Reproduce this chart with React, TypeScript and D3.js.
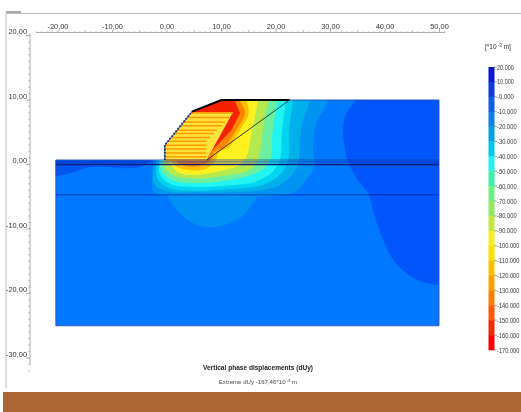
import React from "react";
import * as d3 from "d3";

type P = [number, number];

const xTickLabels = [-20, -10, 0, 10, 20, 30, 40, 50];
const yTickLabels = [20, 10, 0, -10, -20, -30];
const legendValues = ["20.000","10.000","-0.000","-10.000","-20.000","-30.000","-40.000","-50.000","-60.000","-70.000","-80.000","-90.000","-100.000","-110.000","-120.000","-130.000","-140.000","-150.000","-160.000","-170.000"];
const legendColors = ["#0a14d2","#0a3ade","#0a5ce6","#0a80e2","#05a2e4","#00c8e8","#20f2f2","#3cf0a8","#6cf080","#94e862","#c2e840","#f6f020","#ffe000","#ffc000","#ffa000","#ff8000","#ff5800","#f02c00","#ff0000"];

const domainOutline: P[] = [[-20.4,0.7],[-0.4,0.7],[-0.4,3],[4.6,8.2],[10,10],[22.5,10],[49.9,10],[49.9,-25],[-20.4,-25]];

const deepRight: P[] = [[34.5,11],[34.5,10],[32.8,7.7],[32.3,4.9],[32.7,2.2],[33.2,0.4],[35,-2.4],[36.9,-4.4],[37.8,-7.1],[39.1,-10.5],[41.5,-14.8],[43.7,-16.7],[45.9,-17.9],[49.9,-18.7],[53,-18.7],[53,11]];
const leftDark: P[] = [[-22,0.9],[-22,-1.7],[-17.6,-1.3],[-14.1,-0.4],[-4.95,-0.4],[-2.6,0.9]];
const lowerBlob: P[] = [[0.2,-4],[0.2,-5],[1.5,-6.7],[3.3,-8.3],[5.7,-9.4],[7.9,-9.7],[10.6,-9.4],[13.4,-8.3],[15.2,-6.7],[16.5,-5],[16.5,-4]];
const band1: P[] = [[29.5,12],[29.5,10],[27.2,5.8],[26.8,2.2],[27,-0.4],[25.5,-2.4],[23.9,-4],[21.5,-4.7],[-0.4,-4.7],[-2.4,-4.3],[-2.75,-2.9],[-2.75,-1.2],[-2.5,1],[-2.5,12]];
const band2: P[] = [[26.2,12],[26.2,10],[24.8,6.4],[24.3,2.7],[24,-0.1],[22.4,-2.1],[20.6,-3.2],[17.2,-4],[11.6,-4.3],[5.5,-4.3],[-0.4,-4.1],[-2.4,-2.9],[-2.4,-1.2],[-2,0.8],[-2,12]];
const band3: P[] = [[23.1,12],[23.1,10],[22.4,5.3],[22.2,0.7],[20.7,-1.6],[17.4,-3.2],[11.6,-3.8],[5.5,-4.1],[0.2,-3.6],[-1.8,-2.1],[-1.8,0.9],[-1.8,12]];
const band4: P[] = [[21.8,12],[21.8,10],[21.1,5.3],[20.7,0.7],[19.3,-1.2],[16.1,-2.7],[11.6,-3.2],[5.5,-3.5],[0.55,-3],[-1.3,-1.5],[-1.4,0.9],[-1.4,12]];
const band5: P[] = [[20.2,12],[20.2,10],[19.4,5.3],[18.9,0.7],[17.4,-0.85],[13.4,-2.1],[5.5,-2.9],[0.9,-2.4],[-1.1,-0.85],[-1.1,0.9],[-1.1,12]];
const band6: P[] = [[18.5,12],[18.5,10],[17.6,5.3],[16.7,0.7],[15.2,-0.85],[11.6,-1.6],[5.5,-2.2],[1.5,-1.8],[-0.4,-0.5],[-0.8,0.8],[-0.8,12]];
const band7: P[] = [[16.7,12],[16.7,10],[15.6,5.3],[14.7,1.5],[13.4,0],[10.6,-0.85],[5.5,-1.6],[2,-1.2],[0.9,-0.2],[0.2,0.7],[0.2,12]];
const band8: P[] = [[14.6,12],[14.6,10],[15,8],[13.4,5.3],[11.4,2.7],[9.4,1.8],[9,0.7],[7,-0.7],[2.9,-0.7],[0.8,0.5],[0.8,12]];
const band9: P[] = [[13.4,12],[13.4,10],[14.3,8],[12.7,5.3],[10.5,2.7],[8.6,1.8],[8.2,0.8],[6.05,-0.2],[3.3,-0.2],[1.5,0.8],[1.5,12]];
const redZone: P[] = [[12.4,10],[13.4,8],[11.8,5.3],[10.1,3.8],[7.9,1.8],[7.3,0.7],[12.1,8.1],[4.6,8.1],[4.6,8.2],[10,10]];
const reinforced: P[] = [[-0.4,0.7],[-0.4,3],[4.6,8.1],[12.1,8.1],[7.3,0.7]];

const contourBands: { pts: P[]; color: string; smooth: boolean }[] = [
  { pts: deepRight, color: "#0056fa", smooth: true },
  { pts: leftDark, color: "#0056ee", smooth: true },
  { pts: lowerBlob, color: "#0090f6", smooth: true },
  { pts: band1, color: "#0094f2", smooth: true },
  { pts: band2, color: "#00b0ea", smooth: true },
  { pts: band3, color: "#00d4f0", smooth: true },
  { pts: band4, color: "#22f4f2", smooth: true },
  { pts: band5, color: "#6cf0a0", smooth: true },
  { pts: band6, color: "#b4ea50", smooth: true },
  { pts: band7, color: "#fff020", smooth: true },
  { pts: band8, color: "#ffc000", smooth: true },
  { pts: band9, color: "#ff8400", smooth: true },
  { pts: reinforced, color: "#ffe23c", smooth: false },
  { pts: redZone, color: "#f42400", smooth: false },
];

const stripLevels = [8, 7.3, 6.6, 6, 5.3, 4.8, 4.2, 3.6, 3, 2.4, 1.8, 1.2, 0.7];
const stripStarts = [4.5, 3.8, 3.1, 2.5, 1.9, 1.4, 0.8, 0.2, -0.4, -0.4, -0.4, -0.4, -0.4];
const stripEnds = [12.1, 11.4, 10.6, 10.1, 9.2, 8.6, 7.9, 7.2, 7.2, 7.2, 7.2, 7.2, 7.2];

const facing: P[] = [[-0.4,0.7],[-0.4,3],[4.6,8.2]];
const crest: P[] = [[4.6,8.2],[10,10]];
const topLoad: P[] = [[10,10],[22.5,10]];
const wedgeLine: P[] = [[7.3,0.7],[22.5,10]];

const x = d3.scaleLinear().domain([0, 50]).range([167, 439.5]);
const y = d3.scaleLinear().domain([10, -30]).range([100, 358]);
const legendY = d3.scaleLinear().domain([0, 19]).range([67, 350]);
const line = d3.line<P>().x(d => x(d[0])).y(d => y(d[1]));
const smoothLine = d3.line<P>().x(d => x(d[0])).y(d => y(d[1])).curve(d3.curveCatmullRom.alpha(0.5));
const closed = (p: P[]) => line(p) + "Z";
const tickText = (v: number) => v.toFixed(2).replace(".", ",");

const xMinor = d3.range(-24, 52, 1);
const yMinor = d3.range(-32, 21, 1);
const font = "'Liberation Sans', Arial, sans-serif";
const ink = "#333";

export default function App() {
  return (
    <div style={{ position: "fixed", left: 0, top: 0 }}>
      <svg width={521} height={412} style={{ display: "block", background: "#fff" }}>
        <defs>
          <clipPath id="dom"><path d={closed(domainOutline)} /></clipPath>
          <filter id="soft" x="-5%" y="-5%" width="110%" height="110%"><feGaussianBlur stdDeviation="0.7" /></filter>
          <filter id="softT" x="-5%" y="-5%" width="110%" height="110%"><feGaussianBlur stdDeviation="0.3" /></filter>
        </defs>

        {/* window frame */}
        <path d="M6 388V13.5H521" fill="none" stroke="#bbb" strokeWidth={1} />
        <rect x={6} y={11} width={15} height={2} fill="#aaa" />

        {/* axes */}
        <g stroke="#777" strokeWidth={0.6} filter="url(#softT)">
          <line x1={x(-24)} x2={x(51)} y1={32.5} y2={32.5} />
          {xMinor.map(v => <line key={v} x1={x(v)} x2={x(v)} y1={v % 5 === 0 ? 30 : 31.3} y2={32.5} />)}
          <line x1={30} x2={30} y1={33} y2={365} />
          {yMinor.map(v => <line key={v} x1={v % 10 === 0 ? 26 : 28.5} x2={30} y1={y(v)} y2={y(v)} />)}
        </g>
        <g fontFamily={font} fontSize={7.4} fill={ink} filter="url(#softT)">
          {xTickLabels.map(v => (
            <text key={v} x={x(v)} y={29} textAnchor="middle">{tickText(v)}</text>
          ))}
          {yTickLabels.map(v => (
            <text key={v} x={27} y={y(v) - 1.5} textAnchor="end">{tickText(v)}</text>
          ))}
        </g>

        {/* model */}
        <g filter="url(#soft)">
          <g clipPath="url(#dom)">
            <path d={closed(domainOutline)} fill="#0078ff" />
            {contourBands.map((b, i) => <path key={i} d={(b.smooth ? smoothLine(b.pts) : line(b.pts)) + "Z"} fill={b.color} />)}
            {stripLevels.map((l, i) => (
              <path key={l} d={line([[stripStarts[i], l], [stripEnds[i], l]])!} stroke="#ff9c00" strokeWidth={1.5} fill="none" />
            ))}
          </g>
          <path d={closed(domainOutline)} fill="none" stroke="#1c4ab4" strokeWidth={0.9} />
          <path d={line([[-20.4, 0], [49.9, 0]])!} stroke="#0a1f78" strokeWidth={1.5} fill="none" />
          <path d={line([[-20.4, 0.4], [49.9, 0.4]])!} stroke="#0a30c0" strokeWidth={1.6} fill="none" opacity={0.5} />
          <path d={line([[-0.4, 0.7], [49.9, 0.7]])!} stroke="#123a90" strokeWidth={0.7} fill="none" />
          <path d={line([[-20.4, -4.7], [49.9, -4.7]])!} stroke="#0a2a9c" strokeWidth={0.8} fill="none" />
          <path d={line(wedgeLine)!} stroke="#163040" strokeWidth={0.9} fill="none" />
          <path d={line(facing)!} stroke="#1a2a70" strokeWidth={1.8} strokeDasharray="1.6 1.6" fill="none" />
          <path d={line(crest)!} stroke="#000" strokeWidth={2} fill="none" />
          <path d={line(topLoad)!} stroke="#000" strokeWidth={2.2} fill="none" />
        </g>

        {/* colour legend */}
        <g filter="url(#softT)">
          {legendColors.map((c, i) => (
            <rect key={i} x={488.5} y={legendY(i)} width={6} height={legendY(i + 1) - legendY(i) + 0.3} fill={c} />
          ))}
          {legendValues.map((t, i) => (
            <g key={t}>
              <line x1={494} x2={497} y1={legendY(i)} y2={legendY(i)} stroke="#555" strokeWidth={0.5} />
              <text x={497} y={legendY(i) + 2.5} fontFamily={font} fontSize={6.4} fill={ink} textLength={t.length * 2.8} lengthAdjust="spacingAndGlyphs">{t}</text>
            </g>
          ))}
          <text x={485} y={49} fontFamily={font} fontSize={6.5} fill={ink}>
            [*10<tspan dy={-2} fontSize={4.5}> -3</tspan><tspan dy={2}> m]</tspan>
          </text>
        </g>

        {/* captions */}
        <g fontFamily={font} fill="#222" filter="url(#softT)">
          <text x={203} y={370} fontSize={7.4} fontWeight="bold" textLength={110} lengthAdjust="spacingAndGlyphs">Vertical phase displacements (dUy)</text>
          <text x={258} y={384} fontSize={6.1} fill="#444" textAnchor="middle">
            Extreme dUy -167,46*10<tspan dy={-2} fontSize={4.2}> -3</tspan><tspan dy={2}> m</tspan>
          </text>
        </g>

        <rect x={3} y={392} width={518} height={20} fill="#a96632" />
      </svg>
    </div>
  );
}
